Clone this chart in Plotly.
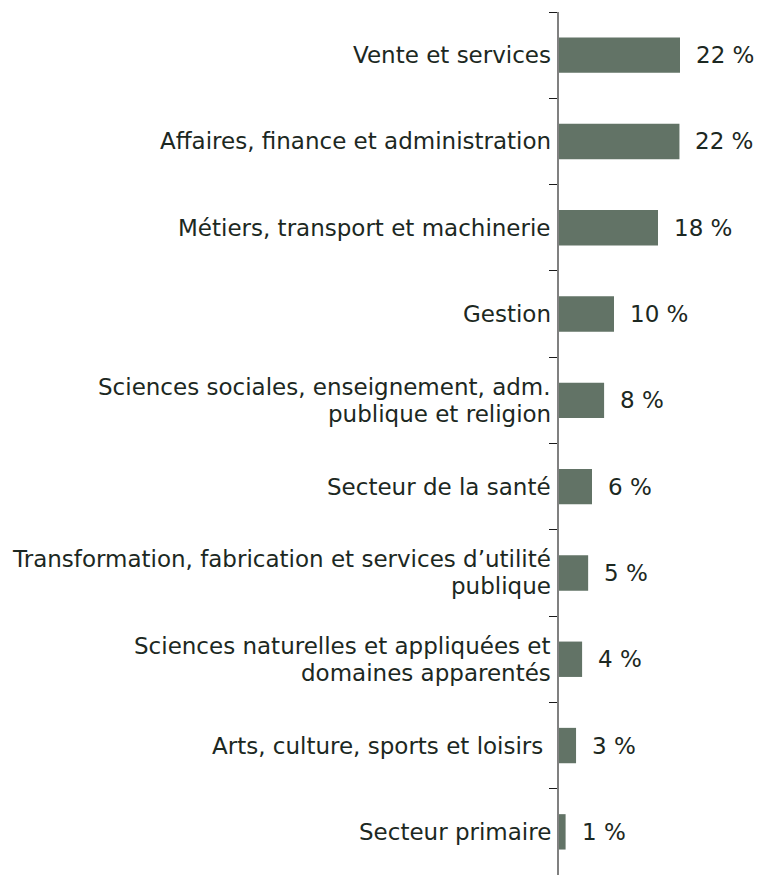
import plotly.graph_objects as go

# category labels, one list of lines per category (top to bottom)
category_lines = [
    ["Vente et services"],
    ["Affaires, finance et administration"],
    ["Métiers, transport et machinerie"],
    ["Gestion"],
    ["Sciences sociales, enseignement, adm.", "publique et religion"],
    ["Secteur de la santé"],
    ["Transformation, fabrication et services d’utilité", "publique"],
    ["Sciences naturelles et appliquées et", "domaines apparentés"],
    ["Arts, culture, sports et loisirs\u00a0"],
    ["Secteur primaire"],
]
categories = [" ".join(l).strip() for l in category_lines]
values = [22.0, 21.9, 18.0, 10.0, 8.2, 6.0, 5.3, 4.2, 3.1, 1.2]
value_labels = ["22 %", "22 %", "18 %", "10 %", "8 %", "6 %", "5 %", "4 %", "3 %", "1 %"]

bar_color = "#627366"
text_color = "#1c2822"
font_family = "DejaVu Sans, Arial, sans-serif"
fsize = 23
line_gap = 27

fig = go.Figure()
fig.add_trace(go.Bar(
    x=values, y=categories, orientation="h",
    marker=dict(color=bar_color, line=dict(width=0)),
    width=0.41, hoverinfo="skip",
))

# value labels
for v, c, t in zip(values, categories, value_labels):
    fig.add_annotation(x=v, y=c, text=t, showarrow=False, xanchor="left",
                       xshift=14, font=dict(size=fsize, color=text_color, family=font_family))

# category labels
for c, lines in zip(categories, category_lines):
    n = len(lines)
    for k, line in enumerate(lines):
        shift = ((n - 1) / 2 - k) * line_gap
        fig.add_annotation(xref="paper", x=0, y=c, text=line, showarrow=False,
                           xanchor="right", xshift=-6, yshift=shift,
                           font=dict(size=fsize, color=text_color, family=font_family))

fig.update_layout(
    width=757, height=879,
    margin=dict(l=559, r=0, t=12, b=4),
    paper_bgcolor="white", plot_bgcolor="white",
    showlegend=False,
    font=dict(family=font_family, size=fsize, color=text_color),
    xaxis=dict(range=[0, 36], visible=False, showgrid=False, zeroline=False),
    yaxis=dict(
        autorange="reversed", showgrid=False, zeroline=False,
        showline=True, linecolor="#808080", linewidth=1.5,
        ticks="outside", ticklen=8, tickcolor="#1a1a1a", tickwidth=1,
        tickson="boundaries", showticklabels=False,
    ),
)

fig.write_html("out.html")
